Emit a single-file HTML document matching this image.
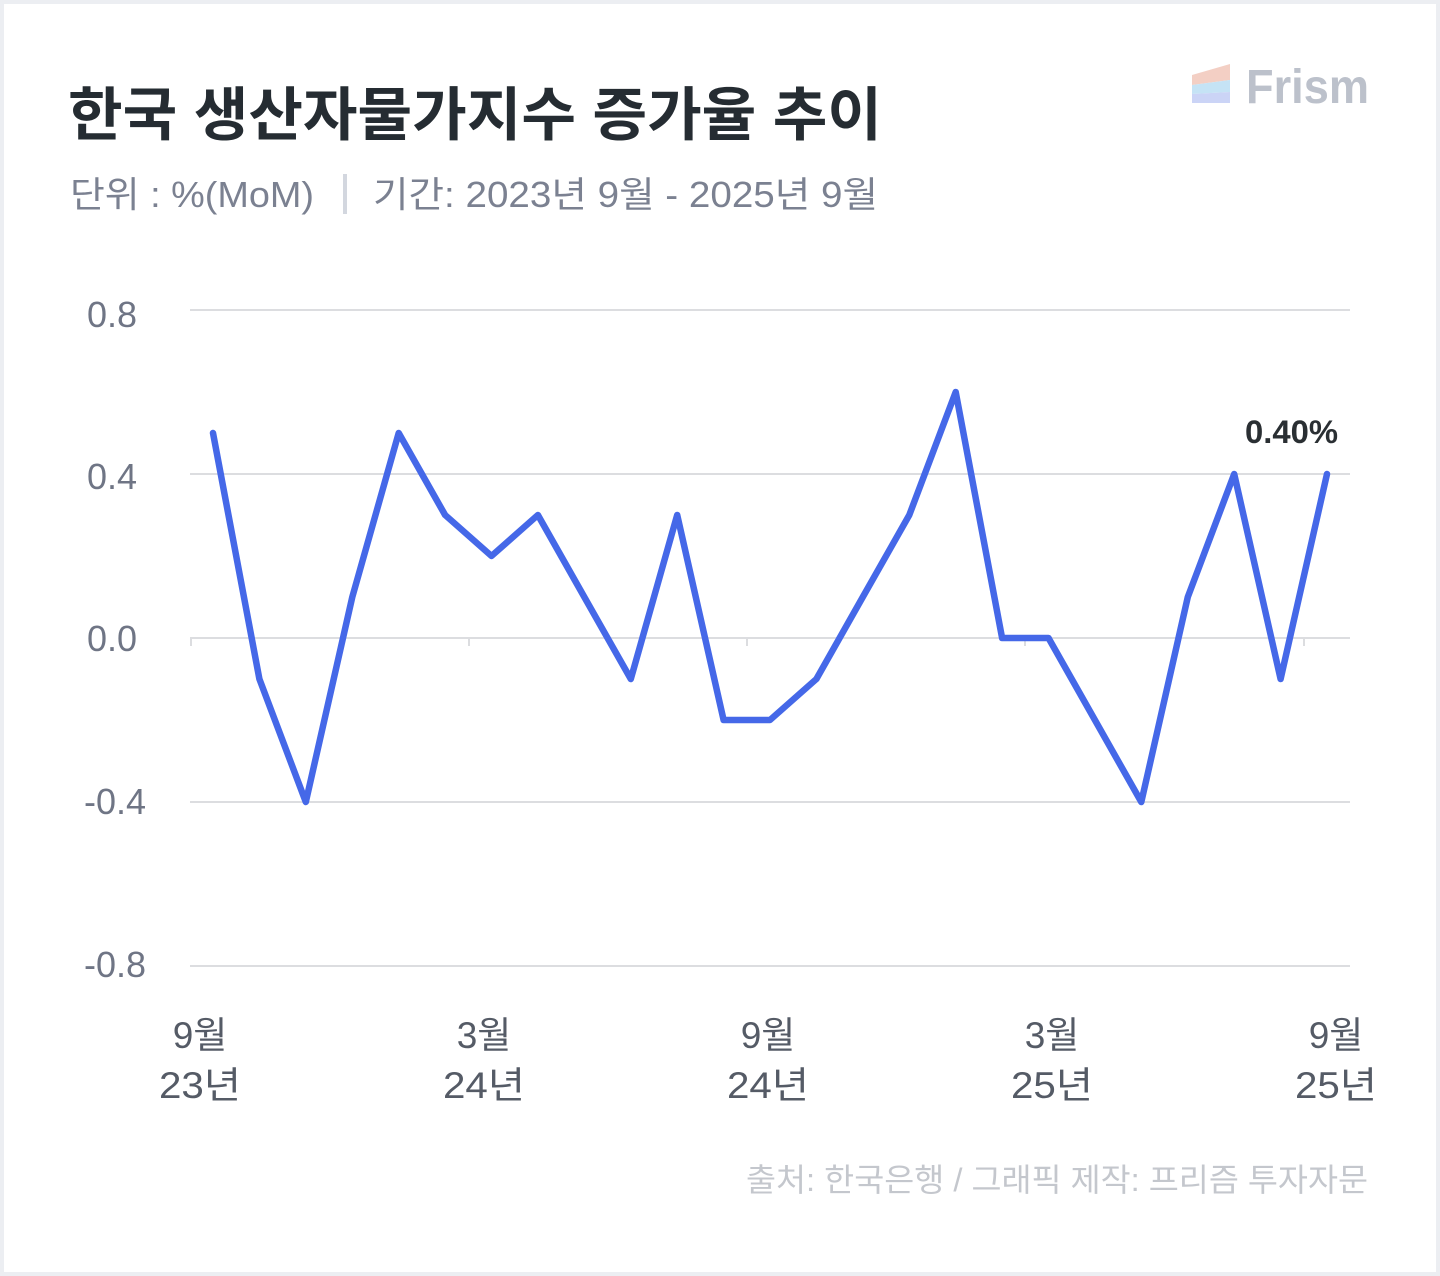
<!DOCTYPE html>
<html><head><meta charset="utf-8"><style>
html,body{margin:0;padding:0;background:#eceef2;}
svg{display:block;}
text{font-family:"Liberation Sans","Noto Sans CJK KR",sans-serif;}
</style></head><body>
<svg width="1440" height="1276" viewBox="0 0 1440 1276" xmlns="http://www.w3.org/2000/svg">
<rect x="0" y="0" width="1440" height="1276" fill="#eceef2"/>
<rect x="4" y="4" width="1432" height="1268" fill="#ffffff"/>
<text x="68" y="135" font-size="58" font-weight="bold" fill="#252c32" font-family="Noto Sans CJK KR, sans-serif" textLength="814" lengthAdjust="spacingAndGlyphs">한국 생산자물가지수 증가율 추이</text>
<text x="70" y="207" font-size="36" fill="#7b8191" font-family="Noto Sans CJK KR, sans-serif" textLength="244" lengthAdjust="spacingAndGlyphs">단위 : %(MoM)</text>
<rect x="343" y="174" width="4" height="40" fill="#d3d7df"/>
<text x="373" y="207" font-size="36" fill="#7b8191" font-family="Noto Sans CJK KR, sans-serif" textLength="505" lengthAdjust="spacingAndGlyphs">기간: 2023년 9월 - 2025년 9월</text>
<polygon points="1192,75 1230,64 1230,80 1192,85" fill="#f3cfc4"/>
<polygon points="1192,85 1230,80 1230,92 1192,94" fill="#c5e3f5"/>
<polygon points="1192,94 1230,92 1230,103 1192,103" fill="#cbd4f6"/>
<text x="1246" y="103" font-size="48" font-weight="bold" fill="#bcc1cb" textLength="123" lengthAdjust="spacingAndGlyphs">Frism</text>
<g stroke="#dcdde0" stroke-width="2">
<line x1="190" y1="310" x2="1350" y2="310"/>
<line x1="190" y1="474" x2="1350" y2="474"/>
<line x1="190" y1="638" x2="1350" y2="638"/>
<line x1="190" y1="802" x2="1350" y2="802"/>
<line x1="190" y1="966" x2="1350" y2="966"/>
<line x1="191" y1="638" x2="191" y2="646"/>
<line x1="469" y1="638" x2="469" y2="646"/>
<line x1="747" y1="638" x2="747" y2="646"/>
<line x1="1025" y1="638" x2="1025" y2="646"/>
<line x1="1304" y1="638" x2="1304" y2="646"/>
</g>
<g font-size="36" fill="#6f7585" text-anchor="end">
<text x="137" y="327">0.8</text>
<text x="137" y="489">0.4</text>
<text x="137" y="651">0.0</text>
<text x="146" y="814">-0.4</text>
<text x="146" y="977">-0.8</text>
</g>
<g font-size="37" fill="#555b66" text-anchor="middle" font-family="Noto Sans CJK KR, sans-serif">
<text x="200" y="1048">9월</text><text x="200" y="1098" textLength="82" lengthAdjust="spacingAndGlyphs">23년</text>
<text x="484" y="1048">3월</text><text x="484" y="1098" textLength="82" lengthAdjust="spacingAndGlyphs">24년</text>
<text x="768" y="1048">9월</text><text x="768" y="1098" textLength="82" lengthAdjust="spacingAndGlyphs">24년</text>
<text x="1052" y="1048">3월</text><text x="1052" y="1098" textLength="82" lengthAdjust="spacingAndGlyphs">25년</text>
<text x="1336" y="1048">9월</text><text x="1336" y="1098" textLength="82" lengthAdjust="spacingAndGlyphs">25년</text>
</g>
<polyline fill="none" stroke="#4568e8" stroke-width="6.5" stroke-linejoin="round" stroke-linecap="round"
points="213,433 259.4,679 305.8,802 352.3,597 398.7,433 445.1,515 491.5,556 537.9,515 584.3,597 630.8,679 677.2,515 723.6,720 770,720 816.4,679 862.8,597 909.3,515 955.7,392 1002.1,638 1048.5,638 1094.9,720 1141.3,802 1187.8,597 1234.2,474 1280.6,679 1327,474"/>
<text x="1245" y="443" font-size="32" font-weight="bold" fill="#2a2f33" textLength="93" lengthAdjust="spacingAndGlyphs">0.40%</text>
<text x="746" y="1191" font-size="32" fill="#c4c7cd" font-family="Noto Sans CJK KR, sans-serif" textLength="622" lengthAdjust="spacingAndGlyphs">출처: 한국은행 / 그래픽 제작: 프리즘 투자자문</text>
</svg>
</body></html>
